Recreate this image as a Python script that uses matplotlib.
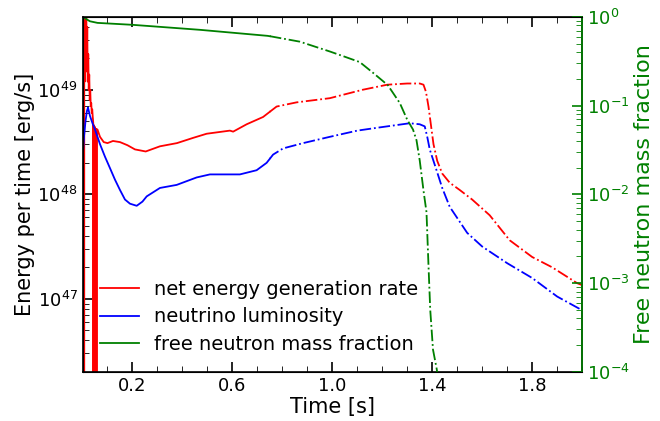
import numpy as np
import matplotlib.pyplot as plt
from matplotlib.ticker import MultipleLocator, FixedLocator

# net energy generation rate, in units of 1e48 erg/s (negative = net cooling)
red_t = [0.000, 0.003, 0.005, 0.007, 0.009, 0.011, 0.013, 0.015, 0.017, 0.019,
         0.021, 0.023, 0.025, 0.027, 0.029, 0.031, 0.033, 0.035, 0.037, 0.039,
         0.041, 0.042,
         0.043, 0.044, 0.045, 0.046, 0.047, 0.048, 0.049, 0.050, 0.051, 0.052,
         0.053, 0.054, 0.055, 0.056, 0.057,
         0.060, 0.070, 0.085, 0.100, 0.122, 0.150, 0.180, 0.210, 0.253, 0.310,
         0.378, 0.443, 0.497, 0.590, 0.603, 0.657, 0.723, 0.750, 0.777, 0.857,
         0.990, 1.120, 1.220, 1.300, 1.350, 1.365, 1.375, 1.385, 1.395, 1.405,
         1.420, 1.440, 1.470, 1.510, 1.560, 1.630, 1.710, 1.800, 1.880, 1.980,
         2.000]
red_E = [3.0, 80.0, -1.0, 30.0, 12.0, 60.0, 18.0, 70.0, 15.0, 40.0,
         12.0, 22.0, 10.0, 14.0, 8.0, 10.0, 7.0, 7.5, 6.0, 6.5,
         5.5, 5.2,
         4.8, -1.0, 4.6, -1.0, 4.5, -1.0, 4.4, -1.0, 4.3, -1.0,
         4.2, -1.0, 4.2, -1.0, 4.2,
         4.17, 3.55, 3.16, 3.09, 3.24, 3.16, 2.95, 2.69, 2.57, 2.88,
         3.09, 3.47, 3.80, 4.07, 3.98, 4.68, 5.50, 6.17, 6.92, 7.59,
         8.32, 10.0, 11.2, 11.5, 11.5, 11.2, 9.55, 6.92, 4.57, 3.02,
         2.09, 1.58, 1.29, 1.10, 0.89, 0.63, 0.363, 0.251, 0.200, 0.141,
         0.135]

# neutrino luminosity, in units of 1e48 erg/s
blue_t = [0.000, 0.002, 0.006, 0.012, 0.018, 0.022, 0.030, 0.040, 0.050, 0.070,
          0.090, 0.110, 0.130, 0.150, 0.170, 0.190, 0.217, 0.240, 0.257, 0.310,
          0.377, 0.457, 0.510, 0.630, 0.697, 0.737, 0.750, 0.763, 0.803, 0.883,
          0.990, 1.100, 1.190, 1.310, 1.350, 1.370, 1.380, 1.390, 1.420, 1.440,
          1.470, 1.540, 1.600, 1.700, 1.800, 1.900, 2.000]
blue_E = [3.55, 2.51, 3.55, 5.01, 6.31, 6.76, 5.62, 4.79, 4.17, 3.02,
          2.29, 1.78, 1.38, 1.10, 0.891, 0.813, 0.776, 0.851, 0.955, 1.15,
          1.23, 1.45, 1.55, 1.55, 1.70, 2.00, 2.19, 2.40, 2.75, 3.09,
          3.55, 4.07, 4.37, 4.79, 4.68, 4.47, 3.55, 2.69, 1.62, 1.15,
          0.759, 0.427, 0.316, 0.219, 0.158, 0.105, 0.0776]

# free neutron mass fraction
green_t = [0.000, 0.030, 0.060, 0.200, 0.470, 0.740, 0.750, 0.870, 0.990, 1.050,
           1.110, 1.163, 1.222, 1.270, 1.300, 1.323, 1.337, 1.350, 1.366, 1.377,
           1.385, 1.392, 1.403, 1.418, 1.430, 1.440]
green_X = [1.00, 0.891, 0.855, 0.813, 0.714, 0.611, 0.605, 0.525, 0.407, 0.355,
           0.309, 0.234, 0.170, 0.107, 0.0692, 0.0537, 0.0407, 0.0240, 0.0105, 0.0063,
           0.00158, 5.0e-4, 1.78e-4, 1.07e-4, 6.3e-5, 3.2e-5]

t_split = 0.75  # simulation end; extrapolated afterwards

plt.rcParams['font.family'] = 'DejaVu Sans'

fig = plt.figure(figsize=(6.6, 4.21), dpi=100)
ax = fig.add_axes([0.125, 0.117, 0.757, 0.843])
ax2 = ax.twinx()


def plot_split(a, t, y, color, lw=1.3):
    t = np.asarray(t)
    y = np.asarray(y)
    early = t <= t_split
    late = t >= t_split
    line, = a.plot(t[early], y[early], color=color, lw=lw, ls='-')
    a.plot(t[late], y[late], color=color, lw=lw, ls='-.')
    return line


l1 = plot_split(ax, red_t, np.array(red_E) * 1e48, 'red')
l2 = plot_split(ax, blue_t, np.array(blue_E) * 1e48, 'blue')
l3 = plot_split(ax2, green_t, green_X, 'green')

ax.set_yscale('log')
ax.set_xlim(0, 2.0)
ax.set_ylim(2e46, 5e49)
ax.xaxis.set_major_locator(FixedLocator([0.2, 0.6, 1.0, 1.4, 1.8]))
ax.xaxis.set_minor_locator(MultipleLocator(0.1))
ax.tick_params(which='both', direction='in', top=True, labelsize=13)
ax.tick_params(which='major', length=7, width=1.2)
ax.tick_params(which='minor', length=4)
ax.set_xlabel('Time [s]', fontsize=15, labelpad=2)
ax.set_ylabel('Energy per time [erg/s]', fontsize=15, labelpad=2)

ax2.set_yscale('log')
ax2.set_ylim(1e-4, 1)
ax2.tick_params(which='both', direction='in', colors='green', labelsize=13)
ax2.tick_params(which='major', length=7, width=1.2)
ax2.tick_params(which='minor', length=4)
ax2.spines['right'].set_color('green')
ax2.set_ylabel('Free neutron mass fraction', color='green', fontsize=16, labelpad=3)

for s in ['left', 'top', 'bottom', 'right']:
    ax.spines[s].set_linewidth(1.2)
ax2.spines['right'].set_linewidth(1.2)

ax.legend([l1, l2, l3],
          ['net energy generation rate', 'neutrino luminosity', 'free neutron mass fraction'],
          loc='lower left', bbox_to_anchor=(0.0, 0.0), frameon=False,
          fontsize=14, handlelength=2.0, handletextpad=0.8, labelspacing=0.45)

fig.savefig('out.png', dpi=100)
